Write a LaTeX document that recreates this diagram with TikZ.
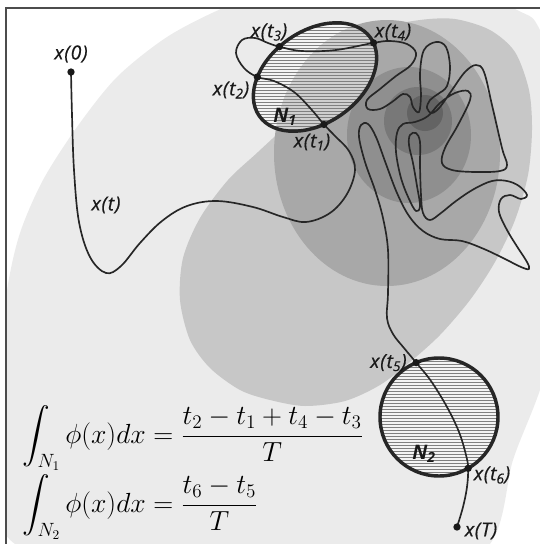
\documentclass[tikz,border=0pt]{standalone}
\usepackage{fontspec}
\usepackage{amsmath}
\usepackage{tikz}
\usetikzlibrary{positioning}
\newfontfamily\labfont[LetterSpace=4, FakeBold=0.6]{Open Sans}
\newfontfamily\setfont{Open Sans}
\definecolor{bgA}{gray}{0.92}
\definecolor{bgB}{gray}{0.78}
\definecolor{bgC}{gray}{0.66}
\definecolor{bgD}{gray}{0.56}
\definecolor{bgE}{gray}{0.47}
\definecolor{bgF}{gray}{0.39}

\begin{document}
\begin{tikzpicture}[x=0.75pt,y=-0.75pt,
  lab/.style={font=\labfont\itshape\fontsize{14.5}{16}\selectfont, text=black!90, inner sep=0pt},
  nlab/.style={font=\setfont\bfseries\itshape\fontsize{15}{16}\selectfont, text=black!90, inner sep=0pt},
  dot/.style={circle, fill=black!90, inner sep=0pt, minimum size=5.5pt},
  trace/.style={line width=1.25pt, black!85, line join=round},
  rim/.style={line width=2.6pt, black!85},
  hatch/.style={black!50, line width=0.5pt}
]
\useasboundingbox (0,0) rectangle (540,544);

% density levels
\begin{scope}
  \clip (6,8) rectangle (548,552);
  \fill[bgA] plot[smooth cycle] coordinates {(15,544) (7,487) (-6,390) (7,290) (20,233) (43,180) (77,127)
    (117,77) (167,37) (223,8) (300,-22) (420,-30) (517,10) (540,30) (575,120) (578,270) (540,390)
    (513,460) (490,544) (400,610) (200,630)};
  \fill[bgB] plot[smooth cycle] coordinates {(420,20) (455,19) (490,30) (515,52) (529,90) (532,130)
    (528,175) (515,220) (495,262) (470,300) (440,335) (410,362) (380,385) (345,401) (305,406)
    (270,400) (240,390) (210,368) (190,340) (180,300) (183,258) (200,218) (228,180) (258,152)
    (285,126) (312,92) (342,55) (380,29)};
  \fill[bgC] (387,153) ellipse [x radius=113, y radius=133];
  \fill[bgD] (409,135) ellipse [x radius=62, y radius=68];
  \fill[bgE] (418,121) circle [radius=34];
  \fill[bgF] (425,113) circle [radius=18];
\end{scope}
\draw[black!70, line width=1pt] (6,8) rectangle (548,552);

% the two sets
\begin{scope}
  \clip[rotate around={35:(315,77)}] (315,77) ellipse [x radius=68, y radius=46];
  \fill[white, opacity=0.45] (230,15) rectangle (400,140);
  \foreach \yy in {15,18,...,140} \draw[hatch] (230,\yy) -- (400,\yy);
\end{scope}
\begin{scope}
  \clip (439,417) circle [radius=59];
  \fill[white, opacity=0.45] (375,355) rectangle (505,480);
  \foreach \yy in {355,358,...,480} \draw[hatch] (375,\yy) -- (505,\yy);
\end{scope}
\draw[rim, rotate around={35:(315,77)}] (315,77) ellipse [x radius=68, y radius=46];
\draw[rim] (439,417) circle [radius=59];

% crossing points
\begin{scope}[shift={(315,77)}, rotate=35]
  \coordinate (t1) at (107:68 and 46);
  \coordinate (t2) at (-134:68 and 46);
  \coordinate (t3) at (-100:68 and 46);
  \coordinate (t4) at (7:68 and 46);
\end{scope}
\begin{scope}[shift={(439,417)}]
  \coordinate (t5) at (-112.8:59);
  \coordinate (t6) at (60.4:59);
\end{scope}
\coordinate (x0) at (71,72);
\coordinate (xT) at (457,527);

% the trajectory
\draw[trace] plot[smooth, tension=0.6] coordinates {(x0) (72,115) (74,170) (79,222) (90,257) (106,273)
  (121,266) (140,243) (162,221) (187,206) (217,201) (253,207) (283,217) (306,222) (330,213)
  (347,194) (355,170) (349,151) (335,136) (t1) (311,109) (294,92) (274,81) (t2) (244,68)
  (236,53) (242,40) (255,38) (268,43) (t3) (302,51) (336,50) (t4) (390,41) (407,44) (416,53)
  (411,65) (396,76) (380,89) (367,100) (368,109) (380,109) (392,102) (403,94) (410,97)
  (413,107) (419,112) (421,95) (420,73) (424,50) (436,42) (446,47) (450,67) (447,86)
  (438,94) (430,100) (427,108) (432,113) (440,107) (452,90) (465,72) (476,65) (484,72)
  (492,105) (502,148) (507,165) (500,171) (475,172) (452,170) (442,163) (445,148) (458,125)
  (470,100) (468,91) (455,93) (440,103) (428,116) (415,122) (403,124) (397,133) (396,152)
  (401,178) (409,199) (416,211) (420,206) (417,186) (413,163) (409,145) (410,135) (416,133)
  (420,142) (420,165) (421,195) (423,213) (430,220) (441,213) (456,201) (474,189) (492,181)
  (507,181) (519,186) (527,195) (521,199) (510,195) (501,199) (499,212) (507,230) (518,248)
  (527,262) (529,269) (521,267) (505,259) (484,249) (462,241) (440,239) (423,231) (409,216)
  (397,193) (386,164) (376,137) (368,124) (361,125) (359,137) (365,162) (375,190) (383,218)
  (388,250) (388,293) (387,318) (393,334) (404,348) (t5) (431,381) (447,407) (459,432)
  (466,455) (t6) (467,487) (463,507) (xT)};

\node[dot] (d0) at (x0) {};
\node[dot] (d1) at (t1) {};
\node[dot] (d2) at (t2) {};
\node[dot] (d3) at (t3) {};
\node[dot] (d4) at (t4) {};
\node[dot] (d5) at (t5) {};
\node[dot] (d6) at (t6) {};
\node[dot] (dT) at (xT) {};

\node[lab, above=4pt of d0] (l0) {x(0)};
\node[lab] (lt) at (106,205) {x(t)};
\node[lab] (l1) at (312,142) {x(t\textsubscript{1})};
\node[lab] (l2) at (231,90) {x(t\textsubscript{2})};
\node[lab] (l3) at (269,32) {x(t\textsubscript{3})};
\node[lab] (l4) at (393,32) {x(t\textsubscript{4})};
\node[lab, left=4pt of d5] (l5) {x(t\textsubscript{5})};
\node[lab] (l6) at (492,475) {x(t\textsubscript{6})};
\node[lab] (lT) at (481,531) {x(T)};
\node[nlab] (n1) at (285,117) {N\textsubscript{1}};
\node[nlab] (n2) at (424,454) {N\textsubscript{2}};

% occupation measures
\node[anchor=base west, inner sep=0pt, font=\fontsize{19.5}{23}\selectfont] (eq1) at (22,443)
  {$\displaystyle\int_{N_1}\phi(x)dx=\frac{t_2-t_1+t_4-t_3}{T}$};
\node[anchor=base west, inner sep=0pt, font=\fontsize{19.5}{23}\selectfont] (eq2) at (22,512)
  {$\displaystyle\int_{N_2}\phi(x)dx=\frac{t_6-t_5}{T}$};
\end{tikzpicture}
\end{document}
